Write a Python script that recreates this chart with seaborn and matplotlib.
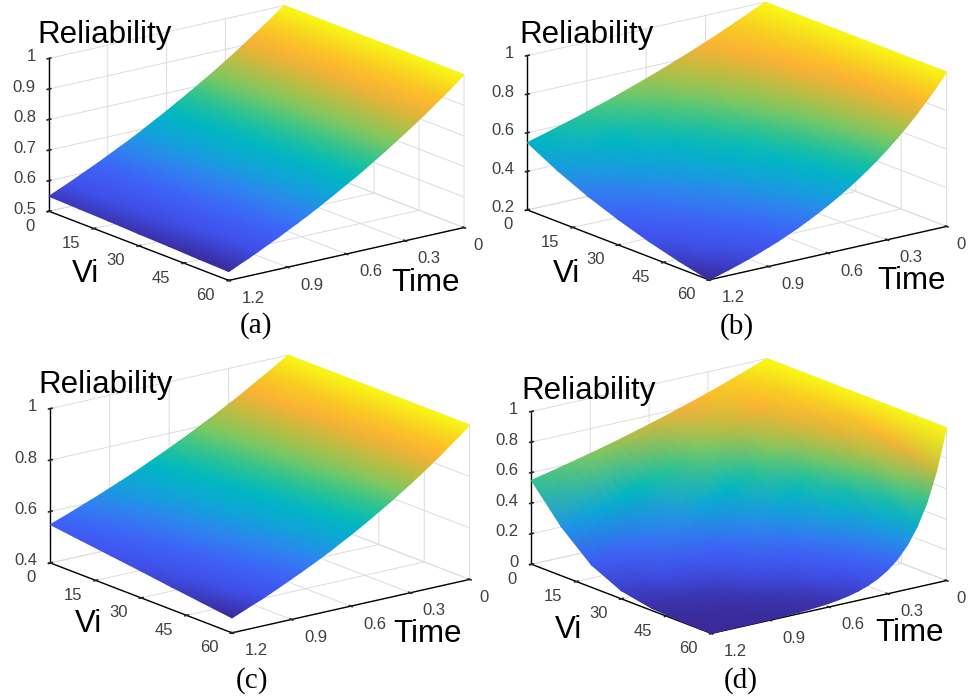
import numpy as np
import matplotlib
matplotlib.use('Agg')
import matplotlib.pyplot as plt
from mpl_toolkits.mplot3d import proj3d
import seaborn as sns

# Values
time_vals = [0, .05, .10, .15, .20, .25, .30, .35, .40, .45, .50, .55, .60,
             .65, .70, .75, .80, .85, .90, .95, 1.0, 1.05, 1.10, 1.15, 1.20]
vi_vals = [0, 10, 20, 30, 40, 50, 60]

# one row per time value
rel_a = [
    [1, 1, 1, 1, 1, 1, 1],
    [.975, .975, .975, .975, .974, .974, .974],
    [.951, .950, .950, .950, .949, .949, .948],
    [.928, .927, .927, .926, .925, .925, .924],
    [.905, .904, .903, .902, .901, .900, .899],
    [.882, .881, .880, .879, .878, .877, .876],
    [.861, .860, .858, .857, .856, .854, .853],
    [.839, .838, .836, .835, .834, .832, .831],
    [.819, .817, .816, .814, .813, .811, .809],
    [.799, .797, .795, .793, .792, .790, .788],
    [.779, .777, .775, .773, .771, .769, .767],
    [.760, .758, .755, .753, .752, .749, .747],
    [.741, .739, .736, .734, .733, .730, .728],
    [.723, .720, .718, .716, .714, .711, .709],
    [.705, .703, .700, .697, .695, .692, .690],
    [.687, .684, .682, .679, .677, .674, .672],
    [.670, .667, .664, .662, .659, .657, .654],
    [.654, .651, .648, .645, .643, .640, .637],
    [.638, .635, .632, .629, .627, .624, .621],
    [.622, .619, .616, .613, .610, .607, .604],
    [.607, .604, .601, .598, .595, .592, .589],
    [.592, .589, .586, .582, .579, .576, .573],
    [.577, .574, .571, .567, .564, .561, .558],
    [.563, .560, .557, .553, .550, .547, .544],
    [.549, .546, .543, .539, .536, .532, .529],
]
rel_c = [
    [1, 1, 1, 1, 1, 1, 1],
    [.975, .974, .973, .972, .970, .969, .968],
    [.951, .949, .947, .945, .942, .940, .938],
    [.928, .925, .921, .918, .914, .911, .907],
    [.905, .901, .896, .892, .887, .883, .878],
    [.882, .877, .871, .866, .861, .855, .850],
    [.861, .855, .848, .842, .836, .829, .823],
    [.839, .832, .825, .818, .811, .804, .797],
    [.819, .811, .803, .795, .787, .779, .771],
    [.799, .790, .782, .773, .764, .756, .747],
    [.779, .770, .760, .751, .742, .732, .723],
    [.760, .750, .740, .730, .720, .710, .700],
    [.741, .730, .720, .709, .698, .688, .677],
    [.723, .712, .701, .690, .678, .667, .656],
    [.705, .693, .681, .670, .658, .646, .634],
    [.687, .675, .663, .651, .638, .626, .614],
    [.670, .658, .645, .633, .620, .608, .595],
    [.654, .641, .628, .615, .602, .589, .576],
    [.638, .625, .611, .598, .585, .571, .558],
    [.622, .608, .595, .581, .567, .554, .540],
    [.607, .593, .579, .565, .550, .536, .522],
    [.592, .578, .563, .549, .534, .520, .505],
    [.577, .563, .548, .534, .519, .505, .490],
    [.563, .548, .533, .519, .504, .489, .474],
    [.549, .534, .519, .504, .488, .473, .458],
]
# one row per Vi value
edge_vi0 = [1, .975, .951, .928, .905, .882, .861, .839, .819, .799, .779, .760, .741,
            .723, .705, .687, .670, .654, .638, .622, .607, .592, .577, .563, .549]
rel_b = [
    edge_vi0,
    [1, .969, .938, .908, .880, .852, .825, .799, .774, .750, .726, .703, .681,
     .660, .639, .619, .599, .580, .562, .544, .527, .511, .495, .479, .464],
    [1, .962, .925, .890, .855, .823, .791, .761, .732, .704, .677, .651, .626,
     .602, .579, .557, .536, .515, .496, .477, .458, .441, .424, .408, .392],
    [1, .955, .912, .871, .832, .794, .759, .725, .692, .661, .631, .603, .576,
     .550, .525, .502, .479, .458, .437, .417, .399, .381, .364, .347, .332],
    [1, .948, .899, .853, .809, .767, .728, .690, .654, .621, .589, .558, .529,
     .502, .476, .452, .428, .406, .385, .365, .346, .329, .312, .296, .280],
    [1, .942, .887, .835, .787, .741, .698, .657, .619, .583, .549, .517, .487,
     .458, .432, .407, .383, .361, .340, .320, .301, .284, .267, .252, .237],
    [1, .935, .875, .818, .765, .715, .669, .625, .585, .547, .512, .479, .448,
     .419, .392, .366, .343, .320, .300, .280, .262, .245, .229, .214, .200],
]
rel_d = [
    edge_vi0,
    [1, .954, .909, .867, .827, .789, .752, .717, .684, .652, .622, .593, .566,
     .539, .514, .490, .468, .446, .425, .405, .387, .369, .352, .335, .320],
    [1, .923, .852, .787, .726, .670, .619, .571, .527, .487, .449, .415, .383,
     .353, .326, .301, .278, .257, .237, .219, .202, .186, .172, .159, .147],
    [1, .885, .783, .693, .613, .542, .479, .424, .375, .332, .294, .260, .230,
     .203, .180, .159, .141, .125, .110, .098, .086, .076, .067, .060, .053],
    [1, .839, .705, .592, .497, .417, .350, .294, .247, .207, .174, .146, .122,
     .103, .086, .072, .061, .051, .043, .036, .030, .025, .021, .018, .015],
    [1, .789, .622, .490, .387, .305, .240, .190, .150, .118, .093, .073, .058,
     .046, .036, .028, .022, .018, .014, .011, .009, .007, .005, .004, .003],
    [1, .733, .538, .395, .289, .212, .156, .114, .084, .061, .045, .033, .024,
     .018, .013, .010, .007, .005, .004, .003, .002, .002, .001, .001, .001],
]

time_ticks = [0, .3, .6, .9, 1.2]
time_labels = ['0', '0.3', '0.6', '0.9', '1.2']
vi_ticks = [0, 15, 30, 45, 60]
vi_labels = ['0', '15', '30', '45', '60']

ramp = ['#3a2a9a', '#3f4fe8', '#3f62f8', '#2f85f0', '#10a5d8', '#00b8c0', '#30c490',
        '#80c860', '#c0bc40', '#fdb035', '#f8d020', '#f8f815']
W, H = 968, 699

sns.set_theme(style='white')
plt.rcParams['font.family'] = ['Liberation Sans', 'DejaVu Sans']
cmap = sns.blend_palette(ramp, as_cmap=True)

fig = plt.figure(figsize=(W / 100, H / 100), dpi=100)


def draw_panel(z, center, zoom, zlim, zticks, zlabels, texts):
    size = 560
    left = (center[0] - .5135 * size) / W
    bottom = 1 - (center[1] + .5135 * size) / H
    rect = [left, bottom, size / W, size / H]
    ax = fig.add_axes(rect, projection='3d', proj_type='ortho')
    ax.patch.set_alpha(0)
    ax.set_xlim(0, 1.2, view_margin=0)
    ax.set_ylim(0, 60, view_margin=0)
    ax.set_zlim(zlim[0], zlim[1], view_margin=0)
    ax.set_xticks(time_ticks, [''] * len(time_ticks))
    ax.set_yticks(vi_ticks, [''] * len(vi_ticks))
    ax.set_zticks(zticks, [''] * len(zticks))
    ax.view_init(elev=17.1, azim=52.6)
    ax.set_box_aspect((1, 1, .54), zoom=zoom)
    ax.zaxis.set_ticks_position('lower')
    for axis in (ax.xaxis, ax.yaxis, ax.zaxis):
        axis.set_pane_color((1, 1, 1, 0))
        axis.pane.set_edgecolor('#d8d8d8')
        axis.line.set_color('black')
        axis.line.set_linewidth(1)
        axis._axinfo['grid'].update(color='#dcdcdc', linewidth=.7)
        axis._axinfo['tick'].update(inward_factor=.1, outward_factor=.1,
                                    color='#303030')

    # 3d collections only take flat facet colours, so the surface goes through
    # the axes' own projection onto a 2d overlay that can do gouraud shading
    M = ax.get_proj()
    T, V = np.meshgrid(time_vals, vi_vals, indexing='ij')
    px, py, _ = proj3d.proj_transform(T.ravel(), V.ravel(), z.ravel(), M)
    over = fig.add_axes(rect)
    over.axis('off')
    over.pcolormesh(np.reshape(px, T.shape), np.reshape(py, T.shape), z,
                    shading='gouraud', cmap=cmap)
    over.set_xlim(ax.viewLim.intervalx)
    over.set_ylim(ax.viewLim.intervaly)

    # 3d tick labels only move along their pad direction, so place them here
    def tick_label(txt, x, y, zv, dx, dy, ha='center'):
        lx, ly, _ = proj3d.proj_transform(x, y, zv, M)
        over.annotate(txt, (lx, ly), xytext=(dx, dy), textcoords='offset pixels',
                      ha=ha, va='center', fontsize=12, color='#404040',
                      annotation_clip=False)

    for tv, txt in zip(time_ticks, time_labels):
        tick_label(txt, tv, 60, zlim[0], 14 if txt == '0' else 24, -18)
    for vv, txt in zip(vi_ticks, vi_labels):
        tick_label(txt, 1.2, vv, zlim[0], -19 if txt == '0' else -23, -15)
    for zv, txt in zip(zticks, zlabels):
        tick_label(txt, 1.2, 0, zv, -13, 2, ha='right')

    for label, x, y, family, fs in texts:
        fig.text(x / W, 1 - y / H, label, family=family, fontsize=fs,
                 ha='center', va='center', color='black')
    return ax


sans = 'Liberation Sans'
serif = 'Liberation Serif'
panels = [
    (np.array(rel_a), (256.5, 143), .777, (.5, 1), [.5, .6, .7, .8, .9, 1],
     ['0.5', '0.6', '0.7', '0.8', '0.9', '1'],
     [('Reliability', 105, 35, sans, 22.5), ('Vi', 85, 274, sans, 22.5),
      ('Time', 426, 283, sans, 22.5), ('(a)', 256, 326, serif, 21)]),
    (np.array(rel_b).T, (737, 141), .785, (.2, 1), [.2, .4, .6, .8, 1],
     ['0.2', '0.4', '0.6', '0.8', '1'],
     [('Reliability', 587, 35, sans, 22.5), ('Vi', 566, 274, sans, 22.5),
      ('Time', 912, 281, sans, 22.5), ('(b)', 737, 327, serif, 21)]),
    (np.array(rel_c), (260, 494), .785, (.4, 1), [.4, .6, .8, 1],
     ['0.4', '0.6', '0.8', '1'],
     [('Reliability', 106, 385, sans, 22.5), ('Vi', 88, 624, sans, 22.5),
      ('Time', 428, 634, sans, 22.5), ('(c)', 252, 681, serif, 21)]),
    (np.array(rel_d).T, (739, 496), .777, (0, 1), [0, .2, .4, .6, .8, 1],
     ['0', '0.2', '0.4', '0.6', '0.8', '1'],
     [('Reliability', 589, 391, sans, 22.5), ('Vi', 568, 630, sans, 22.5),
      ('Time', 910, 633, sans, 22.5), ('(d)', 741, 681, serif, 21)]),
]
for z, center, zoom, zlim, zticks, zlabels, texts in panels:
    draw_panel(z, center, zoom, zlim, zticks, zlabels, texts)

plt.savefig('out.png', dpi=100)
